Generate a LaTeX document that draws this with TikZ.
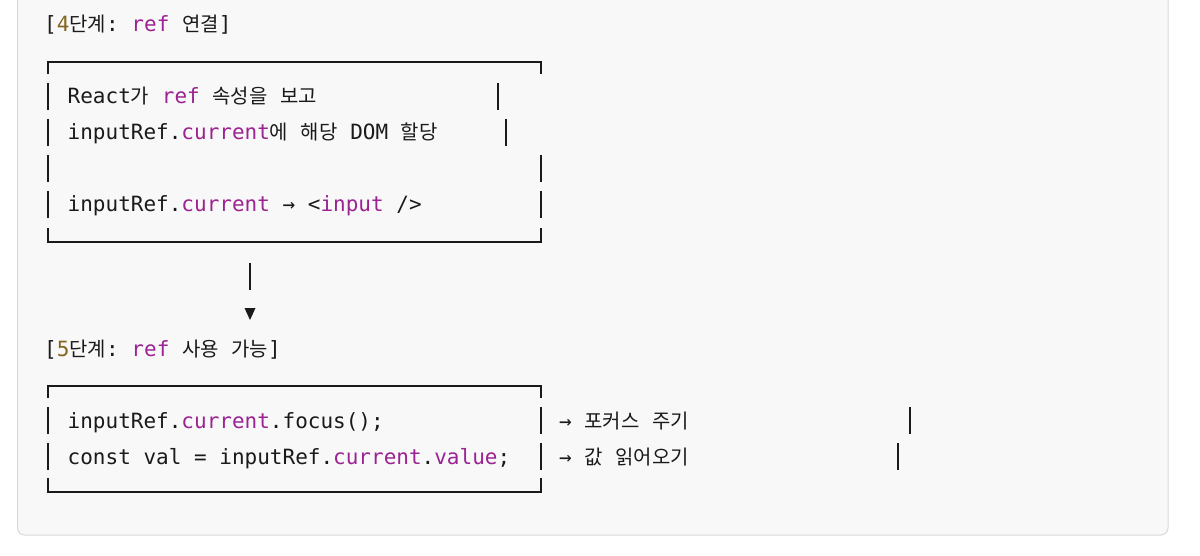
\documentclass[tikz,border=0pt]{standalone}
\usepackage{fontspec}
\setmonofont{DejaVu Sans Mono}
\newfontfamily\krfont{Noto Sans CJK KR}[Scale=0.95]
\usetikzlibrary{positioning}
\definecolor{ink}{HTML}{1A1A1C}
\definecolor{kwcol}{HTML}{9B2393}
\definecolor{numcol}{HTML}{85661E}
\definecolor{panel}{HTML}{F8F8F8}
\definecolor{rim}{HTML}{D9D9D9}
\newcommand{\kwd}[1]{\textcolor{kwcol}{#1}}
\newcommand{\num}[1]{\textcolor{numcol}{#1}}
\newcommand{\kr}[1]{{\krfont #1}}

\begin{document}
\begin{tikzpicture}[x=1pt,y=-1pt,font=\ttfamily\fontsize{21}{36}\selectfont,
  txt/.style={anchor=base west,inner sep=0pt,text=ink},
  rule/.style={ink,line width=1.7pt},
  bar/.style={ink,line width=1.5pt}]
  \useasboundingbox (0,0) rectangle (1200,556);
  \fill[panel,draw=rim,line width=1pt,rounded corners=7pt]
    (17.5,-20) rectangle (1168,535);

  % step 4 box
  \node[txt] (title4) at (44,32)
    {[\num{4}\kr{단계}: \kwd{ref} \kr{연결}]};
  \draw[rule] (48,74) -- (48,62) -- (541,62) -- (541,74);
  \draw[rule] (48,228) -- (48,242) -- (541,242) -- (541,228);
  \foreach \y/\xr in {104/498,140/506,176/541,212/541} {
    \draw[bar] (48,\y-21) -- (48,\y+6);
    \draw[bar] (\xr,\y-21) -- (\xr,\y+6);
  }
  \node[txt] (r41) at (67.5,104)
    {React\kr{가} \kwd{ref} \kr{속성을} \kr{보고}};
  \node[txt] (r42) at (67.5,140)
    {inputRef.\kwd{current}\kr{에} \kr{해당} DOM \kr{할당}};
  \node[txt] (r44) at (67.5,212)
    {inputRef.\kwd{current} → <\kwd{input} />};

  % arrow down
  \coordinate (stemtop) at (250,263);
  \coordinate (stemend) at (250,290);
  \draw[bar] (stemtop) -- (stemend);
  \fill[ink] (244.5,308) -- (255.5,308) -- (250,320) -- cycle;

  % step 5 box
  \node[txt] (title5) at (44,356)
    {[\num{5}\kr{단계}: \kwd{ref} \kr{사용} \kr{가능}]};
  \draw[rule] (48,398) -- (48,386) -- (541,386) -- (541,398);
  \draw[rule] (48,478) -- (48,492) -- (541,492) -- (541,478);
  \foreach \y/\xr in {428/910,464/898} {
    \draw[bar] (48,\y-21) -- (48,\y+6);
    \draw[bar] (541,\y-21) -- (541,\y+6);
    \draw[bar] (\xr,\y-21) -- (\xr,\y+6);
  }
  \node[txt] (r51) at (67.5,428)
    {inputRef.\kwd{current}.focus();};
  \node[txt] (r52) at (67.5,464)
    {const val = inputRef.\kwd{current}.\kwd{value};};
  \node[txt] (n51) at (559,428) {→ \kr{포커스} \kr{주기}};
  \node[txt] (n52) at (559,464) {→ \kr{값} \kr{읽어오기}};
\end{tikzpicture}
\end{document}
